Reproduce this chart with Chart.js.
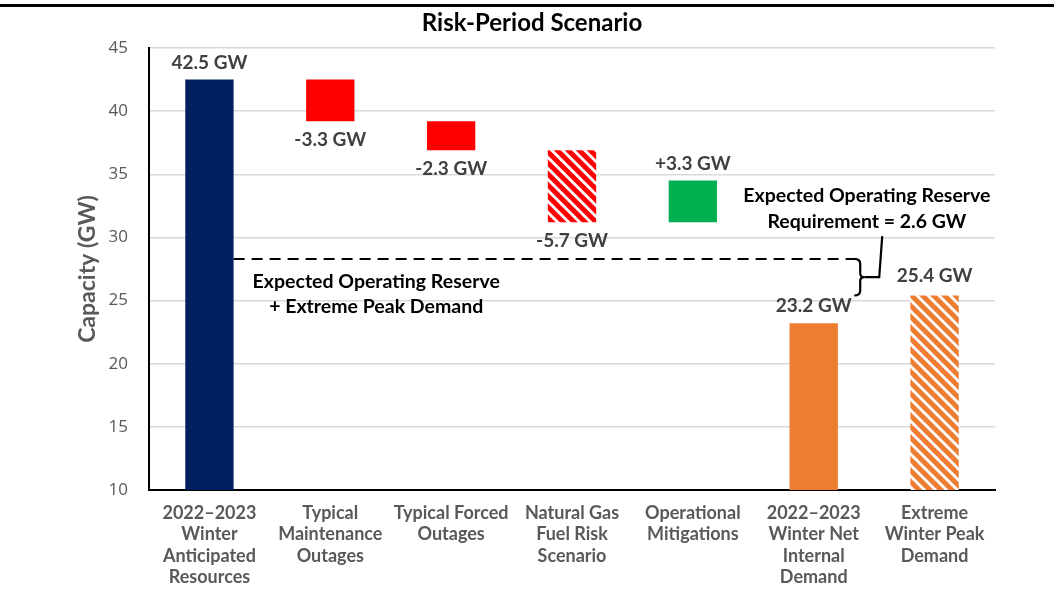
<!DOCTYPE html>
<html>
<head>
<meta charset="utf-8">
<script src="https://cdn.jsdelivr.net/npm/chart.js@4.4.0/dist/chart.umd.min.js"></script>
<style>
  html, body { margin: 0; padding: 0; background: #fff; }
  #wrap { width: 1054px; height: 613px; }
</style>
</head>
<body>
<div id="wrap"><canvas id="myChart"></canvas></div>
<script>
// categories (multi-line labels)
const categories = [
    ['2022\u20132023', 'Winter', 'Anticipated', 'Resources'],
    ['Typical', 'Maintenance', 'Outages'],
    ['Typical Forced', 'Outages'],
    ['Natural Gas', 'Fuel Risk', 'Scenario'],
    ['Operational', 'Mitigations'],
    ['2022\u20132023', 'Winter Net', 'Internal', 'Demand'],
    ['Extreme', 'Winter Peak', 'Demand']
];
// floating bars: bottom and top of each step (GW)
const barLow = [10, 39.2, 36.9, 31.2, 31.2, 10, 10];
const barHigh = [42.5, 42.5, 39.2, 36.9, 34.5, 23.2, 25.4];
const valueLabels = ['42.5 GW', '-3.3 GW', '-2.3 GW', '-5.7 GW', '+3.3 GW', '23.2 GW', '25.4 GW'];
const yTicks = [10, 15, 20, 25, 30, 35, 40, 45];
// expected operating reserve + extreme peak demand level
const reserveLevel = 28.3;

function hatch(color) {
    const s = 11;
    const c = document.createElement('canvas');
    c.width = s; c.height = s;
    const g = c.getContext('2d');
    g.fillStyle = '#fff';
    g.fillRect(0, 0, s, s);
    g.strokeStyle = color;
    g.lineWidth = 5;
    for (let k = -1; k <= 1; k++) {
        g.beginPath();
        g.moveTo(k * s - 2, -2);
        g.lineTo(k * s + s + 2, s + 2);
        g.stroke();
    }
    return g.createPattern(c, 'repeat');
}

const barColors = ['#002060', '#ff0000', '#ff0000', hatch('#ff0000'), '#00b050', '#ed7d31', hatch('#ed7d31')];

const valueLabelPlugin = {
    id: 'valueLabelPlugin',
    afterDatasetsDraw(chart) {
        const ctx = chart.ctx;
        const meta = chart.getDatasetMeta(0);
        ctx.save();
        ctx.font = 'bold 19px Lato';
        ctx.fillStyle = '#404040';
        ctx.textAlign = 'center';
        ctx.textBaseline = 'middle';
        meta.data.forEach(function (bar, i) {
            const top = Math.min(bar.y, bar.base);
            const bottom = Math.max(bar.y, bar.base);
            if (valueLabels[i].startsWith('-')) {
                ctx.fillText(valueLabels[i], bar.x, bottom + 19);
            } else {
                ctx.fillText(valueLabels[i], bar.x, top - (i === 6 ? 20 : 17));
            }
        });
        ctx.restore();
    }
};

const annotationPlugin = {
    id: 'annotationPlugin',
    beforeDraw(chart) {
        const ctx = chart.ctx;
        ctx.save();
        ctx.fillStyle = '#fff';
        ctx.fillRect(0, 0, chart.width, chart.height);
        ctx.fillStyle = '#000';
        ctx.fillRect(0, 4, chart.width, 3);
        // chart title
        ctx.font = 'bold 24px Lato';
        ctx.textAlign = 'center';
        ctx.textBaseline = 'middle';
        ctx.fillText('Risk-Period Scenario', 532, 23);
        ctx.restore();
    },
    afterDatasetsDraw(chart) {
        const ctx = chart.ctx;
        const x = chart.scales.x, y = chart.scales.y;
        const first = chart.getDatasetMeta(0).data[0];
        const yLine = y.getPixelForValue(reserveLevel);
        const yLow = y.getPixelForValue(barHigh[6]);
        const xBrace = x.getPixelForValue(5.36);
        ctx.save();
        // dashed line
        ctx.strokeStyle = '#000';
        ctx.lineWidth = 2;
        ctx.setLineDash([11, 7]);
        ctx.beginPath();
        ctx.moveTo(first.x + first.width / 2, yLine);
        ctx.lineTo(xBrace - 2, yLine);
        ctx.stroke();
        ctx.setLineDash([]);
        // brace
        const mid = (yLine + yLow) / 2;
        ctx.lineWidth = 2.2;
        ctx.beginPath();
        ctx.moveTo(xBrace - 3, yLine);
        ctx.quadraticCurveTo(xBrace + 3, yLine, xBrace + 3, yLine + 5);
        ctx.lineTo(xBrace + 3, mid - 4);
        ctx.quadraticCurveTo(xBrace + 3, mid, xBrace + 7, mid);
        ctx.quadraticCurveTo(xBrace + 3, mid, xBrace + 3, mid + 4);
        ctx.lineTo(xBrace + 3, yLow - 5);
        ctx.quadraticCurveTo(xBrace + 3, yLow, xBrace - 3, yLow);
        ctx.stroke();
        ctx.beginPath();
        ctx.moveTo(xBrace + 7, mid);
        ctx.lineTo(xBrace + 22, mid);
        ctx.lineTo(xBrace + 25, y.getPixelForValue(30.1));
        ctx.stroke();
        // texts
        ctx.font = 'bold 19.5px Lato';
        ctx.fillStyle = '#000';
        ctx.textAlign = 'center';
        ctx.textBaseline = 'middle';
        const xl = x.getPixelForValue(1.38);
        ctx.fillText('Expected Operating Reserve', xl, y.getPixelForValue(26.47));
        ctx.fillText('+ Extreme Peak Demand', xl, y.getPixelForValue(24.5));
        const xr = x.getPixelForValue(5.44);
        ctx.fillText('Expected Operating Reserve', xr, y.getPixelForValue(33.28));
        ctx.fillText('Requirement = 2.6 GW', xr, y.getPixelForValue(31.22));
        ctx.restore();
    }
};

const ctx = document.getElementById('myChart').getContext('2d');
const myChart = new Chart(ctx, {
    type: 'bar',
    data: {
        labels: categories,
        datasets: [{
            label: 'Capacity',
            data: barLow.map(function (lo, i) { return [lo, barHigh[i]]; }),
            backgroundColor: barColors,
            borderWidth: 0,
            categoryPercentage: 1,
            barPercentage: 0.4
        }]
    },
    options: {
        responsive: true,
        maintainAspectRatio: false,
        animation: false,
        layout: { padding: { left: 0, right: 59, top: 48, bottom: 0 } },
        plugins: {
            legend: { display: false },
            tooltip: { enabled: false },
            title: { display: false }
        },
        scales: {
            x: {
                grid: { display: false, drawTicks: false },
                border: { color: '#000', width: 2 },
                ticks: {
                    color: '#595959',
                    font: { family: 'Lato', size: 18, weight: 'bold', lineHeight: 1.2 },
                    padding: 12,
                    maxRotation: 0,
                    autoSkip: false
                },
                afterFit(scale) { scale.height = 123; }
            },
            y: {
                min: 10,
                max: 45,
                afterBuildTicks(scale) { scale.ticks = yTicks.map(function (v) { return { value: v }; }); },
                grid: { color: '#d9d9d9', lineWidth: 1.5, drawTicks: false },
                border: { color: '#000', width: 2 },
                ticks: {
                    color: '#595959',
                    font: { family: 'Open Sans', size: 17 },
                    padding: 21
                },
                title: {
                    display: true,
                    text: 'Capacity (GW)',
                    color: '#595959',
                    font: { family: 'Lato', size: 23, weight: 'bold' },
                    padding: { top: 74, bottom: 0 }
                },
                afterFit(scale) { scale.width = 149; }
            }
        }
    },
    plugins: [valueLabelPlugin, annotationPlugin]
});
</script>
</body>
</html>
